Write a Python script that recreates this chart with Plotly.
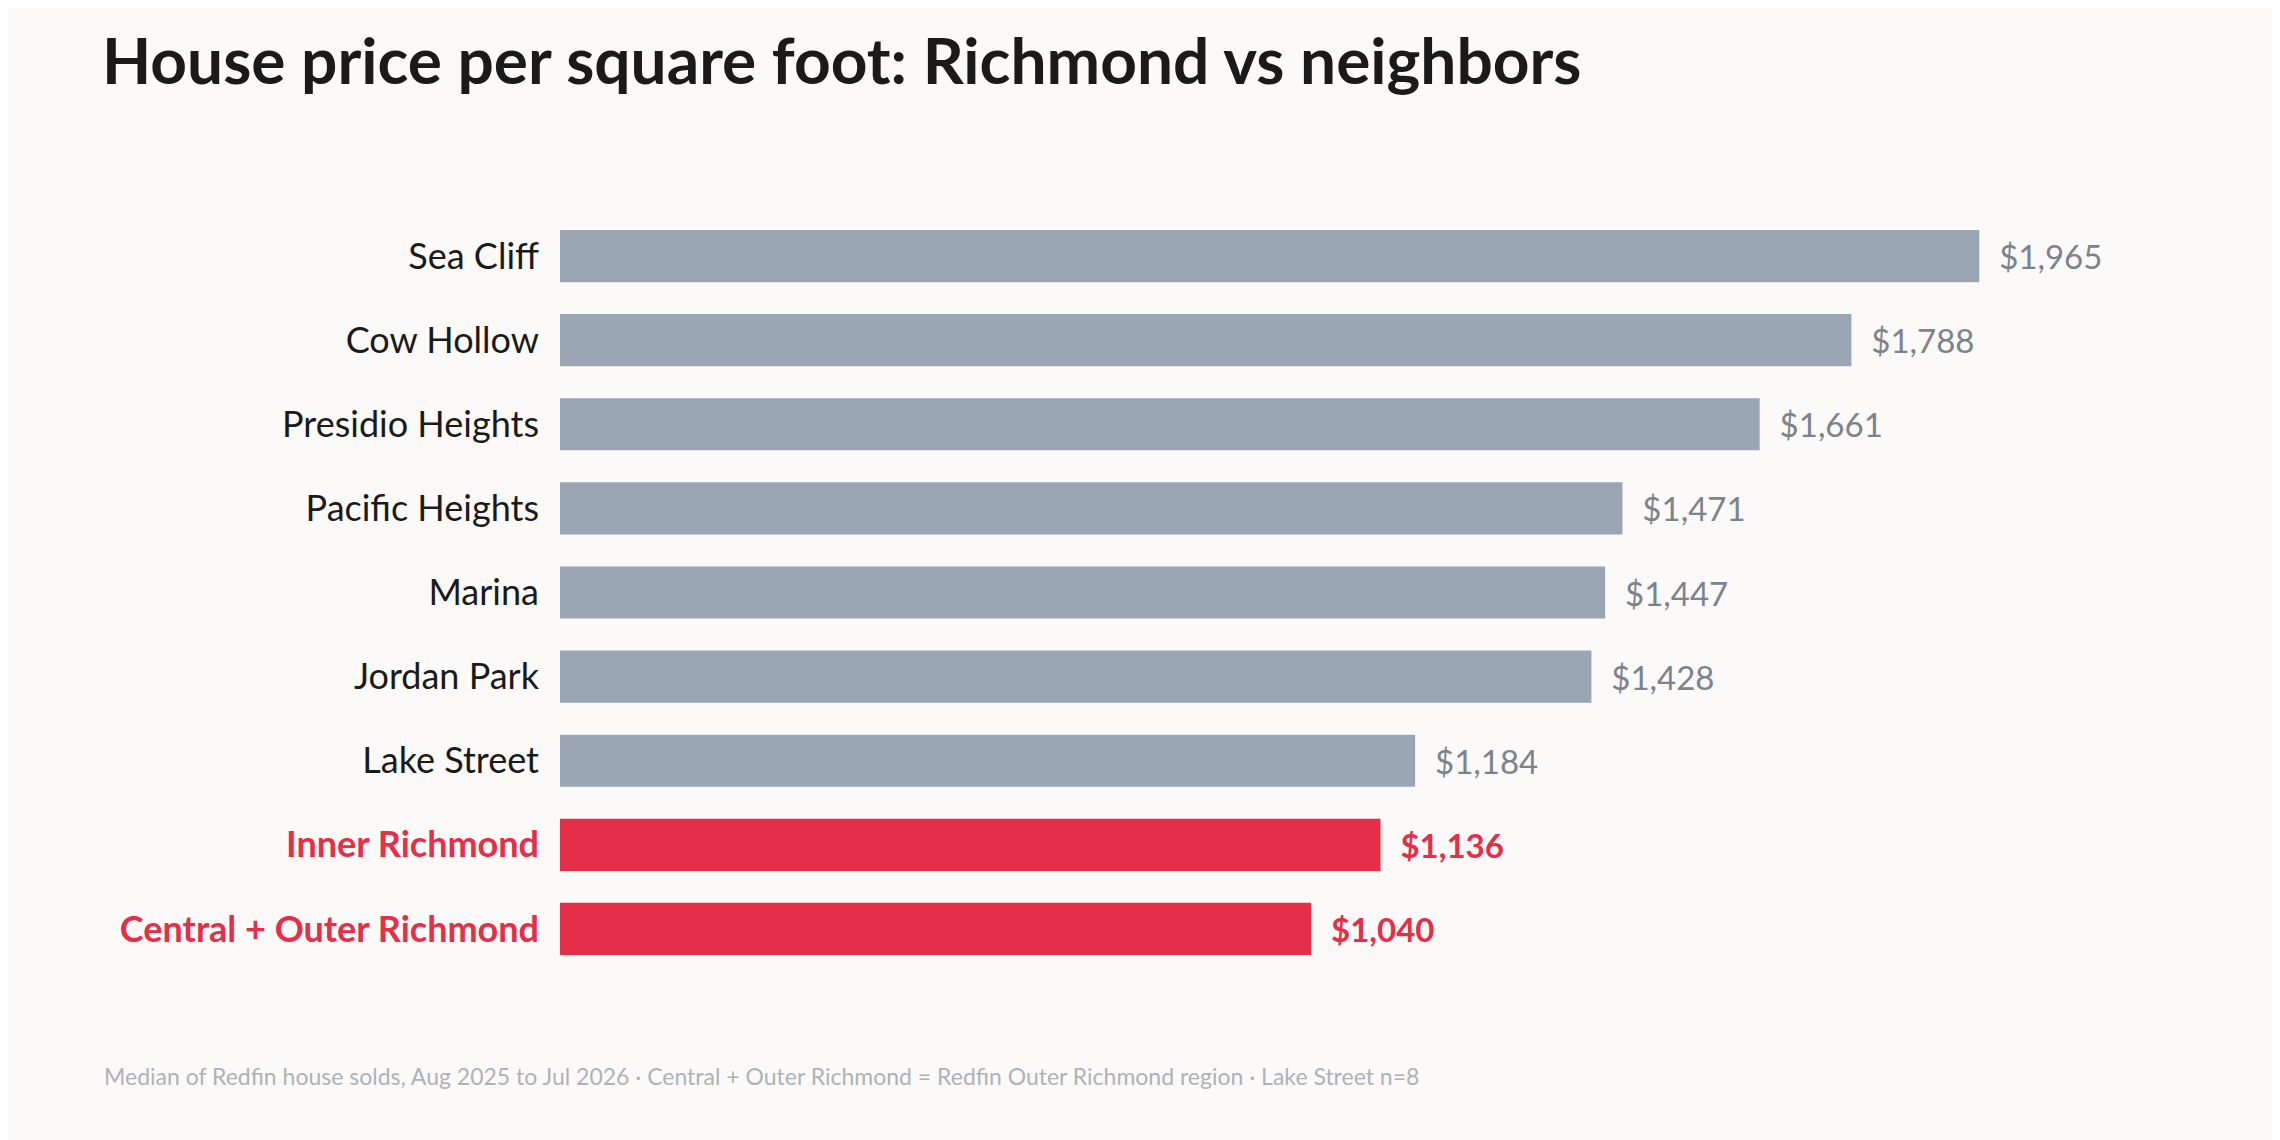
import plotly.graph_objects as go

# data
neighborhoods = ["Sea Cliff", "Cow Hollow", "Presidio Heights", "Pacific Heights", "Marina",
                 "Jordan Park", "Lake Street", "Inner Richmond", "Central + Outer Richmond"]
price_per_sqft = [1965, 1788, 1661, 1471, 1447, 1428, 1184, 1136, 1040]
highlight = [False] * 7 + [True, True]

GRAY = "#9AA6B4"
RED = "#E52E48"
BG = "#FCFAF8"

bar_colors = [RED if h else GRAY for h in highlight]
text_colors = [RED if h else "#7D838C" for h in highlight]
texts = [f"  <b>${v:,}</b>" if h else f"  ${v:,}" for v, h in zip(price_per_sqft, highlight)]
tick_text = [f"<span style='color:{RED}'><b>{n}</b></span>" if h else n
             for n, h in zip(neighborhoods, highlight)]

fig = go.Figure(go.Bar(
    x=price_per_sqft,
    y=neighborhoods,
    orientation="h",
    marker=dict(color=bar_colors, line=dict(width=0)),
    text=texts,
    textposition="outside",
    textfont=dict(color=text_colors, size=33, family="Lato"),
    cliponaxis=False,
))

fig.update_layout(
    width=2280, height=1140,
    paper_bgcolor=BG, plot_bgcolor=BG,
    font=dict(family="Lato", color="#1A1A1A"),
    margin=dict(l=552, r=139, t=206, b=177),
    bargap=0.38,
    showlegend=False,
    title=dict(text="<b>House price per square foot: Richmond vs neighbors</b>",
               x=94 / 2280, xanchor="left", y=1 - 54 / 1140, yanchor="middle",
               font=dict(size=64, color="#1A1A1A", family="Lato")),
    annotations=[dict(
        text="Median of Redfin house solds, Aug 2025 to Jul 2026 · Central + Outer Richmond = Redfin Outer Richmond region · Lake Street n=8",
        xref="paper", yref="paper", x=-(552 - 94) / 1589, y=-(1068 - 963) / 757,
        xanchor="left", yanchor="middle", showarrow=False,
        font=dict(size=23, color="#AEB2B8", family="Lato"))],
)
fig.update_xaxes(range=[0, 2200], visible=False)
fig.update_yaxes(autorange="reversed", tickvals=neighborhoods, ticktext=tick_text,
                 ticks="", ticklabelstandoff=20, showgrid=False,
                 tickfont=dict(size=36, color="#1A1A1A", family="Lato"))

fig.write_html("out.html")
